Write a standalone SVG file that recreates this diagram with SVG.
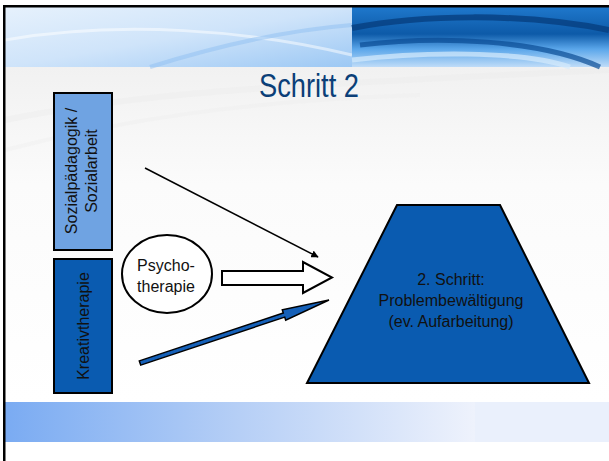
<svg xmlns="http://www.w3.org/2000/svg" width="609" height="461" viewBox="0 0 609 461">
<style>
.t{font-family:"Liberation Sans",Arial,sans-serif;fill:#111;font-size:16px}
.box{stroke:#000;stroke-width:2}
</style>
<defs>
<linearGradient id="hdrL" x1="0" y1="0" x2="1" y2="1">
<stop offset="0" stop-color="#e6f1fc"/><stop offset="0.5" stop-color="#cfe4fa"/><stop offset="1" stop-color="#9cc8f4"/>
</linearGradient>
<linearGradient id="hdrR" x1="0" y1="0" x2="0" y2="1">
<stop offset="0" stop-color="#1f78cc"/><stop offset="0.45" stop-color="#0d5aa8"/><stop offset="0.7" stop-color="#5aa6ea"/><stop offset="1" stop-color="#bfdcf8"/>
</linearGradient>
<linearGradient id="bg" x1="0" y1="0" x2="0" y2="1">
<stop offset="0" stop-color="#f1f1f1"/><stop offset="0.35" stop-color="#fbfbfb"/><stop offset="1" stop-color="#ffffff"/>
</linearGradient>
<linearGradient id="band" x1="0" y1="0" x2="1" y2="0">
<stop offset="0" stop-color="#7aabf2"/><stop offset="0.5" stop-color="#b6cff6"/><stop offset="1" stop-color="#eef2fc"/>
</linearGradient>
<marker id="ah" viewBox="0 0 10 10" refX="9" refY="5" markerWidth="5" markerHeight="5" orient="auto">
<path d="M0,0 L10,5 L0,10 z" fill="#000"/>
</marker>
</defs>
<rect x="0" y="0" width="609" height="461" fill="#fff"/>
<g id="background">
<rect x="5" y="67" width="604" height="335" fill="url(#bg)"/>
<path d="M5,120 C150,90 300,85 609,70" stroke="#ebebeb" stroke-width="6" fill="none" opacity="0.4"/>
<path d="M5,150 C120,120 250,100 420,95" stroke="#eeeeee" stroke-width="4" fill="none" opacity="0.4"/>
<rect x="5" y="7" width="347" height="60" fill="url(#hdrL)"/>
<path d="M5,40 C120,20 250,30 352,55" stroke="#ffffff" stroke-width="3" fill="none" opacity="0.5"/>
<path d="M150,67 C220,45 290,30 352,25" stroke="#8fc0f2" stroke-width="4" fill="none" opacity="0.5"/>
<rect x="352" y="7" width="257" height="60" fill="url(#hdrR)"/>
<path d="M352,28 C420,15 520,12 609,30" stroke="#063f80" stroke-width="6" fill="none" opacity="0.8"/>
<path d="M360,45 C440,35 540,40 600,67" stroke="#0a4c94" stroke-width="5" fill="none" opacity="0.7"/>
<path d="M352,60 C420,52 520,50 570,67" stroke="#d6ebfc" stroke-width="5" fill="none" opacity="0.7"/>
<rect x="5" y="402" width="470" height="40" fill="url(#band)"/>
<rect x="475" y="402" width="134" height="40" fill="#eaf0fc"/>
<rect x="3" y="5" width="606" height="2.5" fill="#000"/>
<rect x="3" y="5" width="2.5" height="456" fill="#000"/>
</g>
<text x="309" y="97" text-anchor="middle" font-family="'Liberation Sans',Arial,sans-serif" font-size="33" fill="#0b3f78" textLength="100" lengthAdjust="spacingAndGlyphs">Schritt 2</text>
<g id="connectors">
<line x1="145" y1="168" x2="318" y2="257" stroke="#000" stroke-width="1.5" marker-end="url(#ah)"/>
<polygon points="222,271 303,271 303,262 332,277.5 303,293 303,285 222,285" fill="#fff" stroke="#000" stroke-width="2"/>
<polygon points="140.7,365.1 284.7,317.1 285.7,320.2 329,300 282.3,309.8 283.3,312.9 139.3,360.9" fill="#1560b8" stroke="#000" stroke-width="1.5"/>
</g>
<g id="sozial">
<rect class="box" x="54" y="93" width="58" height="157" fill="#6fa3e2"/>
<text class="t" transform="translate(77,171) rotate(-90)" text-anchor="middle" font-size="15">Sozialpädagogik /</text>
<text class="t" transform="translate(97,171) rotate(-90)" text-anchor="middle" font-size="15">Sozialarbeit</text>
</g>
<g id="kreativ">
<rect class="box" x="54" y="259" width="58" height="134" fill="#0a5bb0"/>
<text class="t" transform="translate(89,326) rotate(-90)" text-anchor="middle">Kreativtherapie</text>
</g>
<g id="psycho">
<ellipse cx="167" cy="274" rx="45" ry="39" fill="#fff" stroke="#000" stroke-width="2"/>
<text class="t" x="166" y="271" text-anchor="middle" font-size="17">Psycho-</text>
<text class="t" x="166" y="292" text-anchor="middle" font-size="17">therapie</text>
</g>
<g id="schritt">
<polygon class="box" points="397,205 500,205 589,383 307,383" fill="#0a5bb0"/>
<text class="t" x="451" y="285" text-anchor="middle" font-size="17">2. Schritt:</text>
<text class="t" x="451" y="306" text-anchor="middle" font-size="17">Problembewältigung</text>
<text class="t" x="451" y="327" text-anchor="middle" font-size="17">(ev. Aufarbeitung)</text>
</g>
</svg>
